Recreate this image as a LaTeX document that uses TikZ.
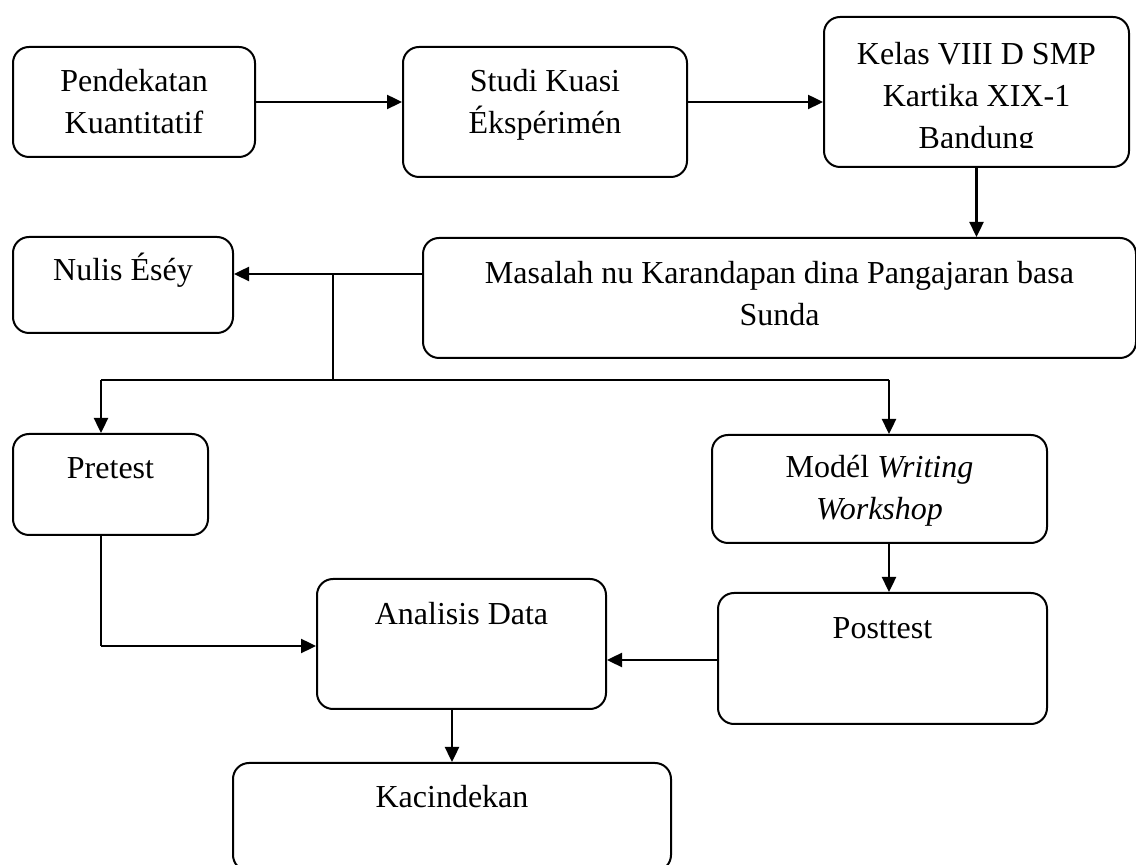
\documentclass[tikz,border=0pt]{standalone}
\usepackage{fontspec}
\setmainfont{Liberation Serif}
\usetikzlibrary{arrows.meta, positioning, calc}
\newcommand{\lead}{\rule{0pt}{16pt}}

\begin{document}
\begin{tikzpicture}[x=0.5pt, y=-0.5pt,
    stage/.style={draw, line width=1pt, rounded corners=8pt, inner sep=0pt, anchor=north west},
    caption/.style={font=\fontsize{16}{21}\selectfont, align=center, inner sep=0pt},
    flow/.style={-{Triangle[length=7.5pt, width=7pt]}, line width=1.2pt},
    link/.style={line width=1.2pt},
    branch/.style={line width=0.7pt}]

    \useasboundingbox (0,0) rectangle (1136,865);

    % Boxes
    \node[stage, minimum width=121pt, minimum height=55pt] (pend) at (12,46) {};
    \node[stage, minimum width=142pt, minimum height=65pt] (studi) at (402,46) {};
    \node[stage, minimum width=152.5pt, minimum height=75pt] (kelas) at (823,16) {};
    \node[stage, minimum width=110pt, minimum height=48pt] (nulis) at (12,236) {};
    \node[stage, minimum width=356.5pt, minimum height=60pt] (masalah) at (422,237) {};
    \node[stage, minimum width=97.5pt, minimum height=50.5pt] (pre) at (12,433) {};
    \node[stage, minimum width=167.5pt, minimum height=54pt] (model) at (711,434) {};
    \node[stage, minimum width=164.5pt, minimum height=65.5pt] (post) at (717,592) {};
    \node[stage, minimum width=144.5pt, minimum height=65pt] (anal) at (316,578) {};
    \node[stage, minimum width=219pt, minimum height=54pt] (kacin) at (232,762) {};

    % Texts
    \node[caption, below=6.5pt of pend.north] (pendT) {\lead Pendekatan\\Kuantitatif};
    \node[caption, below=6.5pt of studi.north] (studiT) {\lead Studi Kuasi\\Ékspérimén};
    \begin{scope}
      \clip (823,16) rectangle (1128,148);
      \node[caption, below=8pt of kelas.north] (kelasT)
        {\lead Kelas VIII D SMP\\Kartika XIX-1\\Bandung};
    \end{scope}
    \node[caption, below=6pt of nulis.north] (nulisT) {\lead Nulis Éséy};
    \node[caption, below=7pt of masalah.north] (masalahT)
      {\lead Masalah nu Karandapan dina Pangajaran basa\\Sunda};
    \node[caption, below=6.5pt of pre.north] (preT) {\lead Pretest};
    \node[caption, below=5.5pt of model.north] (modelT)
      {\lead Modél \textit{Writing}\\\textit{Workshop}};
    \node[caption, below=7pt of post.north] (postT) {\lead Posttest};
    \node[caption, below=7pt of anal.north] (analT) {\lead Analisis Data};
    \node[caption, below=6.5pt of kacin.north] (kacinT) {\lead Kacindekan};

    % Fork points
    \coordinate (fork) at (333,274);
    \coordinate (barL) at (101,380);
    \coordinate (barR) at (889,380);

    % Top row
    \draw[flow] (pend.east) -- (pend.east -| studi.west);
    \draw[flow] (studi.east |- pend.east) -- (pend.east -| kelas.west);
    \draw[flow] (kelas.south) -- (kelas.south |- masalah.north);

    % Split from the problem box
    \draw[flow] (masalah.west |- fork) -- (nulis.east |- fork);
    \draw[branch] (fork) -- (fork |- barL);
    \draw[branch] (barL) -- (barR);
    \draw[flow] (barL) -- (barL |- pre.north);
    \draw[flow] (barR) -- (barR |- model.north);

    % Towards the analysis
    \draw[flow] (barR |- model.south) -- (barR |- post.north);
    \draw[link] (barL |- pre.south) -- (barL |- 0,646);
    \draw[flow] (barL |- 0,646) -- (anal.west |- 0,646);
    \draw[flow] (post.west |- 0,660) -- (anal.east |- 0,660);
    \draw[flow] (kacin.north |- anal.south) -- (kacin.north);

\end{tikzpicture}
\end{document}
